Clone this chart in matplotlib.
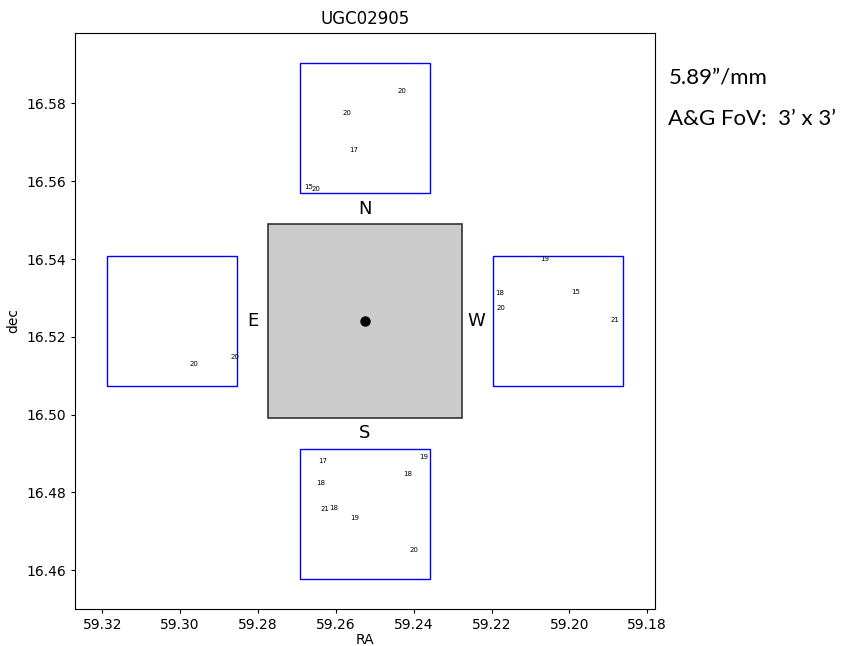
import matplotlib
matplotlib.use("Agg")
import matplotlib.pyplot as plt
from matplotlib.patches import Rectangle

# target centre and field geometry (deg)
target = "UGC02905"
ra0, dec0 = 59.2525, 16.5241
fov = 0.05          # 3' science field
guide = 0.0333      # 2' guide fields
offset = 0.0496     # guide field centre offset

# guide field offsets (dra, ddec) in units of `offset`
guide_dirs = [(0, 1), (0, -1), (1, 0), (-1, 0)]

# guide star positions and magnitudes
star_ra = [59.2442, 59.2584, 59.2566, 59.2680, 59.2662,
           59.2076, 59.2190, 59.1996, 59.2188, 59.1894,
           59.2976, 59.2870,
           59.2645, 59.2386, 59.2426, 59.2650, 59.2639, 59.2617, 59.2564, 59.2411]
star_dec = [16.5826, 16.5770, 16.5676, 16.5581, 16.5576,
            16.5394, 16.5308, 16.5311, 16.5270, 16.5238,
            16.5126, 16.5143,
            16.4876, 16.4885, 16.4842, 16.4818, 16.4751, 16.4756, 16.4730, 16.4648]
star_mag = [20, 20, 17, 15, 20,
            19, 18, 15, 20, 21,
            20, 20,
            17, 19, 18, 18, 21, 18, 19, 20]

fig = plt.figure(figsize=(8.44, 6.46), dpi=100)
ax = fig.add_axes([0.0889, 0.0577, 0.6872, 0.8917])

# science field
ax.add_patch(Rectangle((ra0 - fov / 2, dec0 - fov / 2), fov, fov,
                       facecolor="0.8", edgecolor="0.2", lw=1.2))
ax.plot(ra0, dec0, "ko", markersize=6.5)

# guide fields
for dx, dy in guide_dirs:
    cx = ra0 + dx * offset
    cy = dec0 + dy * offset
    ax.add_patch(Rectangle((cx - guide / 2, cy - guide / 2), guide, guide,
                           facecolor="none", edgecolor="blue", lw=1))

for r, d, m in zip(star_ra, star_dec, star_mag):
    ax.text(r, d, str(m), fontsize=5)

# compass labels
lab = 0.0287
ax.text(ra0, dec0 + lab, "N", fontsize=13, ha="center", va="center")
ax.text(ra0, dec0 - lab, "S", fontsize=13, ha="center", va="center")
ax.text(ra0 + lab, dec0, "E", fontsize=13, ha="center", va="center")
ax.text(ra0 - lab, dec0, "W", fontsize=13, ha="center", va="center")

ax.set_xlim(59.3270, 59.1780)
ax.set_ylim(16.4501, 16.5982)
ax.set_xticks([59.32, 59.30, 59.28, 59.26, 59.24, 59.22, 59.20, 59.18])
ax.set_yticks([16.46, 16.48, 16.50, 16.52, 16.54, 16.56, 16.58])
ax.tick_params(length=3)
ax.set_xlabel("RA", labelpad=1)
ax.set_ylabel("dec")
ax.set_title(target)

fig.text(0.792, 0.870, "5.89\u201d/mm", fontsize=16, family="Lato")
fig.text(0.792, 0.806, "A&G FoV:  3\u2019 x 3\u2019", fontsize=16, family="Lato")

fig.savefig("out.png", dpi=100)
